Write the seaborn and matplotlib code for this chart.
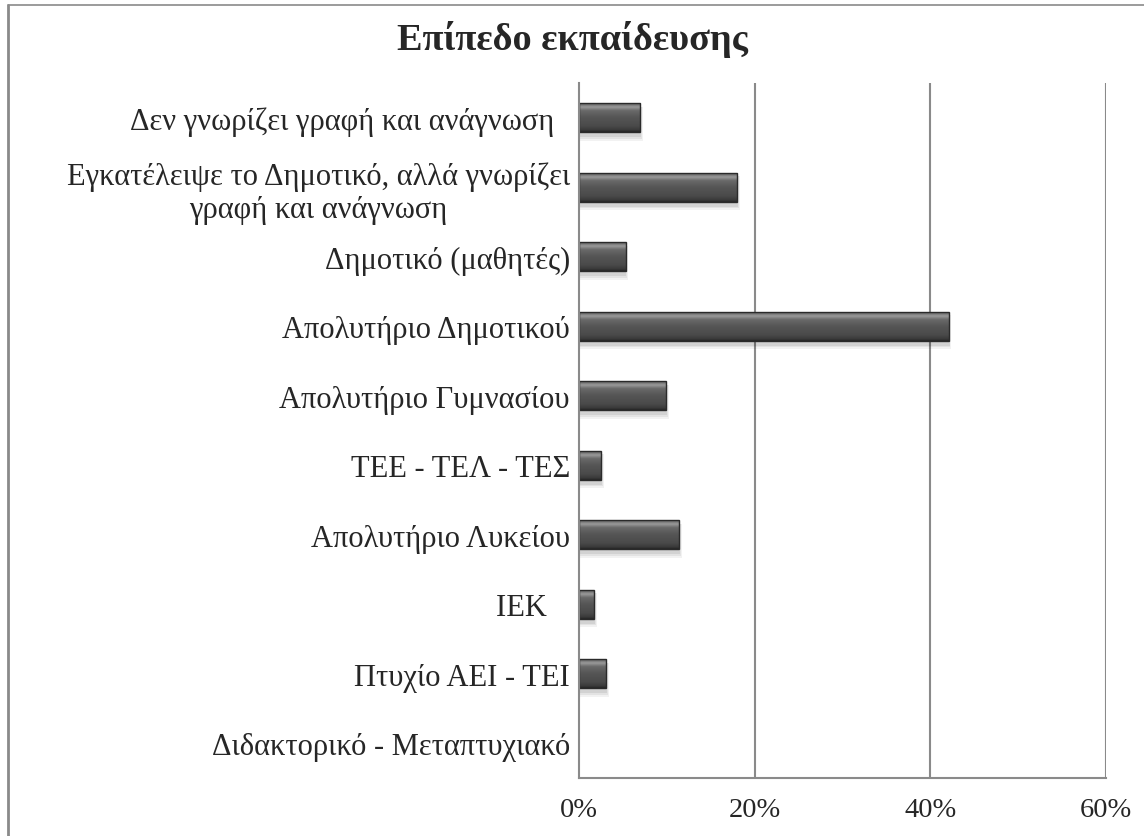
import matplotlib
matplotlib.use("Agg")
import matplotlib.pyplot as plt
import seaborn as sns
import pandas as pd
import numpy as np
from matplotlib.lines import Line2D
from matplotlib.patches import Rectangle
from matplotlib.colors import LinearSegmentedColormap

# Δεδομένα (ποσοστά %)
categories = [
    "Δεν γνωρίζει γραφή και ανάγνωση  ",
    "Εγκατέλειψε το Δημοτικό, αλλά γνωρίζει\nγραφή και ανάγνωση",
    "Δημοτικό (μαθητές)",
    "Απολυτήριο Δημοτικού",
    "Απολυτήριο Γυμνασίου",
    "ΤΕΕ - ΤΕΛ - ΤΕΣ",
    "Απολυτήριο Λυκείου",
    "ΙΕΚ   ",
    "Πτυχίο ΑΕΙ - ΤΕΙ",
    "Διδακτορικό - Μεταπτυχιακό",
]
values = [7.0, 18.0, 5.3, 42.1, 9.9, 2.5, 11.4, 1.7, 3.1, 0.0]
xticks = [0, 20, 40, 60]

df = pd.DataFrame({"cat": categories, "val": values})

sns.set_style("white")
plt.rcParams['font.family'] = ['Liberation Serif', 'DejaVu Serif']

fig = plt.figure(figsize=(11.44, 8.37), dpi=100)
ax = fig.add_axes([579 / 1144, 1 - 779 / 837, 527 / 1144, 695 / 837])

grid_c = "#8a8a8a"

sns.barplot(data=df, x="val", y="cat", orient="h", color="#4d4d4d",
            width=0.42, ax=ax, zorder=3, edgecolor="none")

# Gradient "3D" για τις μπάρες
grad = LinearSegmentedColormap.from_list("bevel", [
    (0.0, "#3c3c3c"), (0.06, "#6a6a6a"), (0.16, "#9a9a9a"), (0.28, "#6a6a6a"),
    (0.5, "#565656"), (0.8, "#4a4a4a"), (0.94, "#3a3a3a"), (1.0, "#262626")])
img = np.linspace(0, 1, 64).reshape(-1, 1)
for p in list(ax.patches):
    x0, y0 = p.get_x(), p.get_y()
    w, h = p.get_width(), p.get_height()
    if w <= 0:
        continue
    # σκιά
    for k, a in [(0.5, 0.10), (0.3, 0.12), (0.15, 0.15)]:
        sh = Rectangle((x0, y0 + h * 0.12), w + k * 0.6, h * (1 + k * 0.35),
                       facecolor="#000000", alpha=a * 0.5, edgecolor="none", zorder=2)
        ax.add_patch(sh)
    im = ax.imshow(img, cmap=grad, aspect="auto", zorder=4,
                   extent=(x0, x0 + w, y0 + h, y0), interpolation="bilinear")
    im.set_clip_path(p)
    ax.add_patch(Rectangle((x0, y0), w, h, facecolor="none",
                           edgecolor="#2a2a2a", lw=1.0, zorder=5))

ax.set_xlim(0, 60)
ax.set_ylim(9.5, -0.5)
ax.set_xticks(xticks)
ax.set_xticklabels([f"{t}%" for t in xticks])
ax.set_xlabel("")
ax.set_ylabel("")

# Πλέγμα
for t in xticks[1:]:
    ax.axvline(t, color=grid_c, lw=1.5, zorder=1)

sns.despine(ax=ax, top=True, right=True)
for s in ["left", "bottom"]:
    ax.spines[s].set_color(grid_c)
    ax.spines[s].set_linewidth(1.5)
    ax.spines[s].set_zorder(6)

ax.set_yticks(np.arange(-0.5, 10, 1), minor=True)
ax.tick_params(axis="y", which="major", length=0, pad=6.5, labelsize=22)
ax.tick_params(axis="y", which="minor", length=6, width=1.5, color=grid_c, direction="out")
ax.tick_params(axis="x", which="major", length=6, width=1.5, color=grid_c,
               direction="out", pad=8, labelsize=20.5)
for lab in ax.get_yticklabels():
    lab.set_multialignment("center")

fig.text(0.5, 1 - 40 / 837, "Επίπεδο εκπαίδευσης", ha="center", va="center",
         fontsize=27.5, fontweight="bold")

# Πλαίσιο
fig.add_artist(Line2D([7.5 / 1144, 7.5 / 1144], [0, 1 - 5.5 / 837],
                      transform=fig.transFigure, color=grid_c, lw=2))
fig.add_artist(Line2D([7.5 / 1144, 1], [1 - 5.5 / 837, 1 - 5.5 / 837],
                      transform=fig.transFigure, color=grid_c, lw=1.2))

fig.savefig("out.png", dpi=100)
